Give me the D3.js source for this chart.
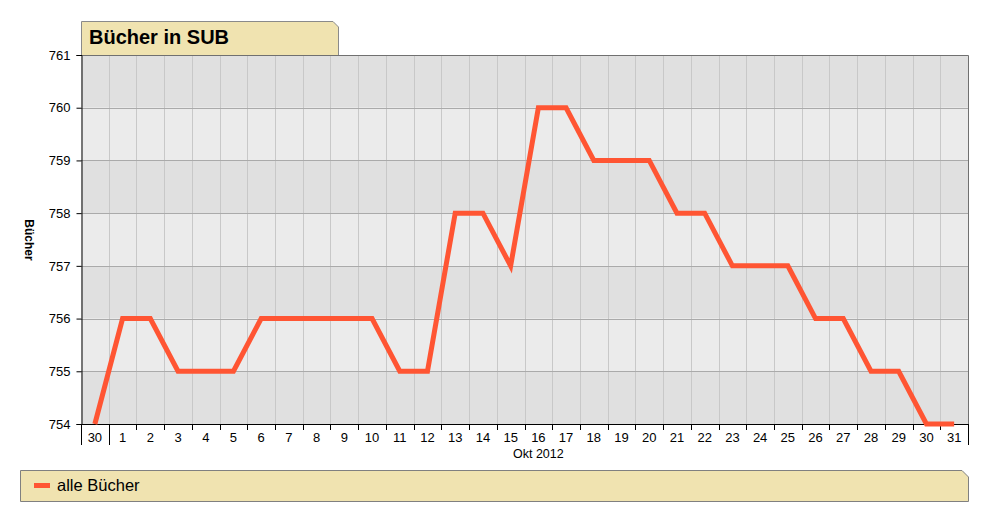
<!DOCTYPE html>
<html><head><meta charset="utf-8">
<script src="https://cdn.jsdelivr.net/npm/d3@7"></script>
<style>
html,body{margin:0;padding:0;background:#fff;}
text{font-family:Arial,"Liberation Sans",sans-serif;}
</style></head>
<body>
<svg id="c" width="988" height="521"></svg>
<script>
const categories = ["30.09","01.10","02.10","03.10","04.10","05.10","06.10","07.10","08.10","09.10","10.10","11.10","12.10","13.10","14.10","15.10","16.10","17.10","18.10","19.10","20.10","21.10","22.10","23.10","24.10","25.10","26.10","27.10","28.10","29.10","30.10","31.10"];
const tickLabels = ["30","1","2","3","4","5","6","7","8","9","10","11","12","13","14","15","16","17","18","19","20","21","22","23","24","25","26","27","28","29","30","31"];
const values = [754,756,756,755,755,755,756,756,756,756,756,755,755,758,758,757,760,760,759,759,759,758,758,757,757,757,756,756,755,755,754,754];
const yTicks = [754,755,756,757,758,759,760,761];
const seriesName = "alle Bücher";
const title = "Bücher in SUB";
const yTitle = "Bücher";
const monthLabel = "Okt 2012";

const svg = d3.select("#c");
const L = 81, R = 968, T = 55, B = 424;
const x = d3.scaleBand().domain(categories).range([L, R]).padding(0);
const y = d3.scaleLinear().domain([754, 761]).range([B, T]);

// background bands
const bands = yTicks.slice(0, -1);
svg.append("g").selectAll("rect").data(bands).join("rect")
  .attr("x", L).attr("width", R - L)
  .attr("y", d => y(d + 1)).attr("height", d => y(d) - y(d + 1))
  .attr("fill", d => ((761 - (d + 1)) % 2 === 0) ? "#e0e0e0" : "#ebebeb");

// vertical grid
svg.append("g").selectAll("line").data(categories.slice(1)).join("line")
  .attr("x1", d => Math.round(x(d)) + 0.5).attr("x2", d => Math.round(x(d)) + 0.5)
  .attr("y1", T).attr("y2", B).attr("stroke", "#c8c8c8").attr("stroke-width", 1);

// horizontal grid
svg.append("g").selectAll("line").data(yTicks.slice(1, -1)).join("line")
  .attr("x1", L).attr("x2", R)
  .attr("y1", d => Math.round(y(d)) + 0.5).attr("y2", d => Math.round(y(d)) + 0.5)
  .attr("stroke", "#aaaaaa").attr("stroke-width", 1);

// top/right border
svg.append("path").attr("d", `M${L},${T + 0.5}H${R + 0.5}V${B}`)
  .attr("fill", "none").attr("stroke", "#707070").attr("stroke-width", 1);

// title box
const tx0 = L, tx1 = 338, ty0 = 21;
svg.append("path")
  .attr("d", `M${tx0 + 0.5},${T}V${ty0 + 0.5}H${tx1 - 5}L${tx1 + 0.5},${ty0 + 6}V${T}`)
  .attr("fill", "#f0e3b0").attr("stroke", "#8a8a8a").attr("stroke-width", 1);
svg.append("text").attr("x", 89).attr("y", 44).attr("font-size", 20).attr("font-weight", "bold")
  .attr("fill", "#000").text(title);

// y axis
const yAxis = d3.axisLeft(y).tickValues(yTicks).tickSize(5).tickPadding(6).tickFormat(d3.format("d"));
const gy = svg.append("g").attr("transform", `translate(${L + 0.5},0)`).call(yAxis);
gy.select(".domain").attr("stroke", "#000");
gy.selectAll(".tick line").attr("stroke", "#000");
gy.selectAll("text").attr("font-size", 13).attr("fill", "#000").attr("font-family", "Arial,'Liberation Sans',sans-serif");

// x axis
const xAxis = d3.axisBottom(x).tickSize(0).tickPadding(8).tickFormat((d, i) => tickLabels[i]);
const gx = svg.append("g").attr("transform", `translate(0,${B + 0.5})`).call(xAxis);
gx.select(".domain").attr("stroke", "#000").attr("d", `M${L},0H${R}`);
gx.selectAll("text").attr("font-size", 13).attr("fill", "#000").attr("font-family", "Arial,'Liberation Sans',sans-serif");
// small boundary ticks
svg.append("g").selectAll("line").data(categories.slice(2)).join("line")
  .attr("x1", d => Math.round(x(d)) + 0.5).attr("x2", d => Math.round(x(d)) + 0.5)
  .attr("y1", B).attr("y2", B + 6).attr("stroke", "#000");
// long month-boundary ticks
const longTicks = [L, x(categories[1]), R];
svg.append("g").selectAll("line").data(longTicks).join("line")
  .attr("x1", d => Math.round(d) + 0.5).attr("x2", d => Math.round(d) + 0.5)
  .attr("y1", B).attr("y2", B + 21).attr("stroke", "#000");
svg.append("text").attr("x", (x(categories[1]) + R) / 2).attr("y", 458)
  .attr("text-anchor", "middle").attr("font-size", 12.5).attr("fill", "#000").text(monthLabel);

// y title
svg.append("text").attr("transform", "translate(25,240) rotate(90)")
  .attr("text-anchor", "middle").attr("font-size", 12).attr("font-weight", "bold").text(yTitle);

// line
const line = d3.line().x((d, i) => x(categories[i]) + x.bandwidth() / 2).y(d => y(d));
svg.append("path").datum(values).attr("d", line)
  .attr("fill", "none").attr("stroke", "#ff5533").attr("stroke-width", 5)
  .attr("stroke-linejoin", "miter").attr("stroke-linecap", "butt");

// legend
const lx0 = 20, lx1 = 968, ly0 = 470, ly1 = 501;
svg.append("path")
  .attr("d", `M${lx0 + 0.5},${ly1 + 0.5}V${ly0 + 0.5}H${lx1 - 6}L${lx1 + 0.5},${ly0 + 7}V${ly1 + 0.5}Z`)
  .attr("fill", "#f0e3b0").attr("stroke", "#808080").attr("stroke-width", 1);
svg.append("line").attr("x1", 34).attr("x2", 50).attr("y1", 485.5).attr("y2", 485.5)
  .attr("stroke", "#ff5533").attr("stroke-width", 5);
svg.append("text").attr("x", 57).attr("y", 491).attr("font-size", 16.5).attr("fill", "#000").text(seriesName);
</script>
</body></html>
